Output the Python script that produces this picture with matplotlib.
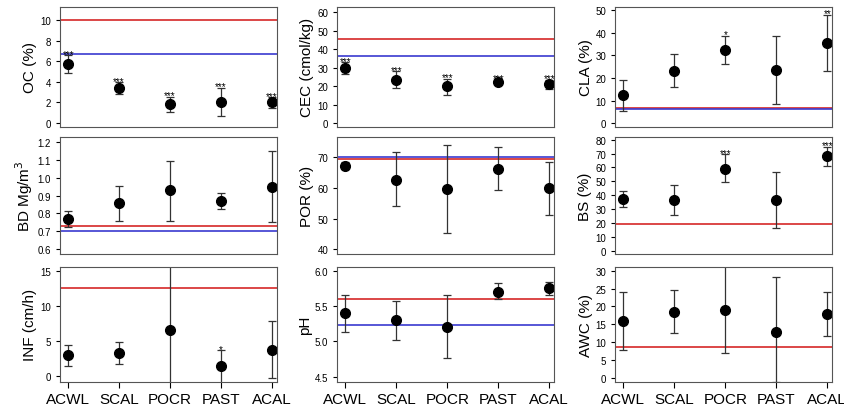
import matplotlib
matplotlib.use("Agg")
import matplotlib.pyplot as plt

plt.rcParams["font.family"] = ["Liberation Sans", "DejaVu Sans"]

sites = ["ACWL", "SCAL", "POCR", "PAST", "ACAL"]

oc_mean = [5.7, 3.4, 1.8, 2.0, 2.0]
oc_lo = [4.8, 2.85, 1.05, 0.65, 1.4]
oc_hi = [6.6, 3.95, 2.55, 3.4, 2.5]
cec_mean = [30, 23.5, 20, 22.2, 21]
cec_lo = [26.5, 19, 15.5, 21, 18.5]
cec_hi = [33, 28, 24, 23.5, 23.5]
cla_mean = [12.5, 23.2, 32.5, 23.8, 35.5]
cla_lo = [5.5, 16.2, 26.3, 8.8, 23]
cla_hi = [19, 30.5, 38.8, 38.5, 48]
bd_mean = [0.77, 0.86, 0.93, 0.87, 0.95]
bd_lo = [0.725, 0.76, 0.76, 0.825, 0.75]
bd_hi = [0.815, 0.955, 1.09, 0.915, 1.15]
por_mean = [67, 62.7, 59.5, 66.2, 59.8]
por_lo = [66, 54, 45.2, 59.2, 51.3]
por_hi = [68.3, 71.5, 74, 73.2, 68.3]
bs_mean = [37, 36.5, 59.2, 36.5, 68]
bs_lo = [31.5, 25.5, 49.5, 16, 61]
bs_hi = [43, 47.5, 69.5, 57, 75]
inf_mean = [3, 3.3, 6.6, 1.5, 3.8]
inf_lo = [1.4, 1.7, -1, -1, -0.3]
inf_hi = [4.5, 4.9, 16, 3.7, 7.9]
ph_mean = [5.4, 5.3, 5.2, 5.7, 5.75]
ph_lo = [5.13, 5.02, 4.77, 5.6, 5.65]
ph_hi = [5.66, 5.57, 5.65, 5.82, 5.84]
awc_mean = [16, 18.5, 19, 12.8, 18]
awc_lo = [7.8, 12.5, 7, -1, 11.9]
awc_hi = [24, 24.5, 32, 28.2, 24]

# label, mean, lower, upper, red line, blue line, stars, ylim, yticks
panels = [
    ("OC (%)", oc_mean, oc_lo, oc_hi, 10, 6.7, ["***"] * 5, (-0.4, 11.3), [0, 2, 4, 6, 8, 10]),
    ("CEC (cmol/kg)", cec_mean, cec_lo, cec_hi, 45.5, 36.5, ["***"] * 5, (-2, 63), [0, 10, 20, 30, 40, 50, 60]),
    ("CLA (%)", cla_mean, cla_lo, cla_hi, 7, 6.5, ["", "", "*", "", "**"], (-1.5, 51.5), [0, 10, 20, 30, 40, 50]),
    ("BD Mg/m$^3$", bd_mean, bd_lo, bd_hi, 0.73, 0.70, [""] * 5, (0.575, 1.225), [0.6, 0.7, 0.8, 0.9, 1.0, 1.1, 1.2]),
    ("POR (%)", por_mean, por_lo, por_hi, 69.5, 70, [""] * 5, (38.5, 76.5), [40, 50, 60, 70]),
    ("BS (%)", bs_mean, bs_lo, bs_hi, 19.5, None, ["", "", "***", "", "***"], (-2.5, 82), list(range(0, 81, 10))),
    ("INF (cm/h)", inf_mean, inf_lo, inf_hi, 12.6, None, ["", "", "", "*", ""], (-0.8, 15.6), [0, 5, 10, 15]),
    ("pH", ph_mean, ph_lo, ph_hi, 5.6, 5.23, [""] * 5, (4.43, 6.05), [4.5, 5.0, 5.5, 6.0]),
    ("AWC (%)", awc_mean, awc_lo, awc_hi, 8.8, None, [""] * 5, (-1, 31), [0, 5, 10, 15, 20, 25, 30]),
]

fig = plt.figure(figsize=(8.45, 4.06), dpi=100)
lefts = [0.071, 0.399, 0.728]
rows = [(0.685, 0.296), (0.372, 0.288), (0.057, 0.283)]
x = list(range(1, 6))

for i, (label, m, lo, hi, red, blue, stars, ylim, yt) in enumerate(panels):
    r, c = divmod(i, 3)
    ax = fig.add_axes([lefts[c], rows[r][0], 0.257, rows[r][1]])
    if red is not None:
        ax.axhline(red, color="#d62728", lw=1.2)
    if blue is not None:
        ax.axhline(blue, color="#3a3ad0", lw=1.2)
    err = [[mi - l for mi, l in zip(m, lo)], [h - mi for mi, h in zip(m, hi)]]
    ax.errorbar(x, m, yerr=err, fmt="o", color="black", ms=7,
                ecolor="#333333", elinewidth=0.9, capsize=3, capthick=0.9)
    span = ylim[1] - ylim[0]
    for xi, h, s in zip(x, hi, stars):
        if s:
            ax.text(xi, min(h, ylim[1]) - span * 0.03, s, ha="center", va="bottom", fontsize=7)
    ax.set_xlim(0.84, 5.1)
    ax.set_ylim(*ylim)
    ax.set_yticks(yt)
    ax.tick_params(axis="y", labelsize=7, length=3)
    ax.set_ylabel(label, fontsize=11, labelpad=2)
    for sp in ax.spines.values():
        sp.set_color("#555555")
    if r == 2:
        ax.set_xticks(x)
        ax.set_xticklabels(sites, fontsize=11)
        ax.tick_params(axis="x", length=4)
    else:
        ax.set_xticks([])

fig.savefig("out.png", dpi=100)
